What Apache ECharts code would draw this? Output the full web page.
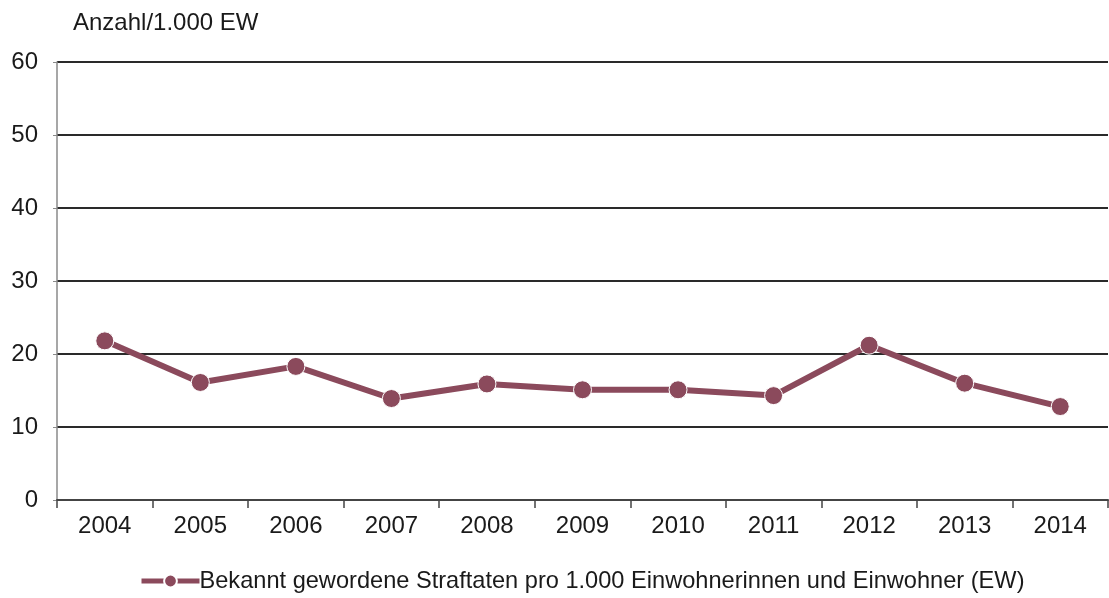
<!DOCTYPE html>
<html>
<head>
<meta charset="utf-8">
<script src="https://cdn.jsdelivr.net/npm/echarts@6/dist/echarts.min.js"></script>
<style>
  html, body { margin: 0; padding: 0; background: #fff; }
  #chart { width: 1109px; height: 598px; }
</style>
</head>
<body>
<div id="chart"></div>
<script>
// Jahre und Werte (Anzahl je 1.000 EW)
var years = ['2004', '2005', '2006', '2007', '2008', '2009', '2010', '2011', '2012', '2013', '2014'];
var straftaten = [21.8, 16.1, 18.3, 13.9, 15.9, 15.1, 15.1, 14.3, 21.2, 16.0, 12.8];
var seriesName = 'Bekannt gewordene Straftaten pro 1.000 Einwohnerinnen und Einwohner (EW)';
var yTitle = 'Anzahl/1.000 EW';

var chart = echarts.init(document.getElementById('chart'));
var font = '"Liberation Sans", Arial, sans-serif';
var fs = 24;

chart.setOption({
    animation: false,
    backgroundColor: '#fff',
    textStyle: { fontFamily: font },
    grid: { left: 57, right: 1, top: 62, bottom: 98 },
    graphic: [{
        type: 'text',
        left: 73,
        top: 11,
        style: { text: yTitle, fontSize: fs, fontFamily: font, fill: '#1a1a1a' }
    }],
    legend: {
        left: 134,
        bottom: 0,
        itemWidth: 58,
        itemHeight: 16,
        data: [seriesName],
        lineStyle: { width: 5 },
        textStyle: { fontSize: 23.6, color: '#1a1a1a', fontFamily: font, padding: [0, 0, 0, -5] }
    },
    xAxis: {
        type: 'category',
        data: years,
        boundaryGap: true,
        axisLine: { lineStyle: { color: '#444', width: 2 } },
        axisTick: { show: true, length: 8, lineStyle: { color: '#444', width: 1.5 } },
        axisLabel: { fontSize: fs, color: '#1a1a1a', margin: 14, fontFamily: font }
    },
    yAxis: {
        type: 'value',
        min: 0,
        max: 60,
        interval: 10,
        axisLine: { show: true, lineStyle: { color: '#8a8a8a', width: 1.5 } },
        axisTick: { show: true, length: 4, lineStyle: { color: '#8a8a8a' } },
        axisLabel: { fontSize: fs, color: '#1a1a1a', margin: 19, fontFamily: font },
        splitLine: { lineStyle: { color: '#2a2a2a', width: 1.8 } }
    },
    series: [{
        name: seriesName,
        type: 'line',
        data: straftaten,
        symbol: 'circle',
        symbolSize: 18,
        color: '#8b4a5c',
        lineStyle: { width: 6, color: '#8b4a5c' },
        itemStyle: { color: '#8b4a5c', borderColor: '#fff', borderWidth: 1 }
    }]
});
</script>
</body>
</html>
